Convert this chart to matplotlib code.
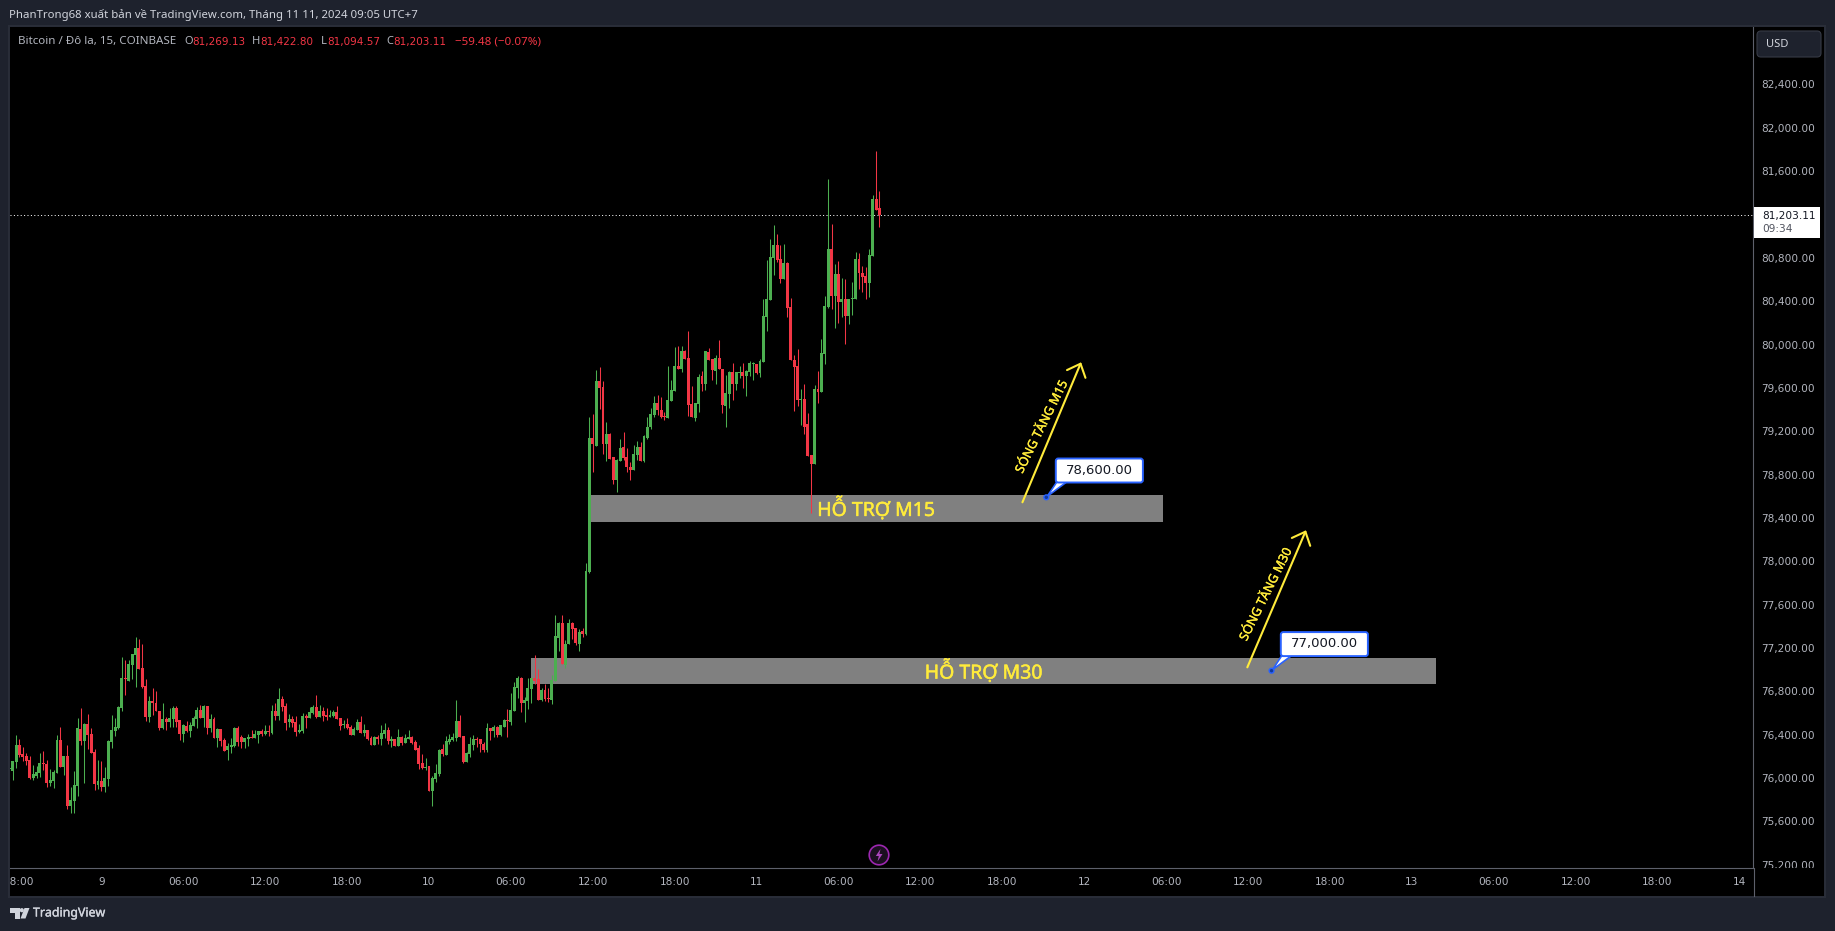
import numpy as np
import matplotlib
matplotlib.use("Agg")
import matplotlib.pyplot as plt
import matplotlib.patheffects as pe
from matplotlib.patches import Rectangle, FancyBboxPatch, Polygon, Circle
from matplotlib.transforms import Bbox, ScaledTranslation

# ---------- data ----------
first_bar = -27  # bars counted from 9 Nov 00:00, 15 minutes each
opens = [76090,76075,76158,76315,76232,76213,76176,76010,76029,76056,76149,76139,75964,75983,76056,76361,76112,76213,75752,75798,75936,76462,76352,76509,76416,76250,75946,
75983,75927,76001,76342,76444,76472,76656,76933,76905,77053,77145,77210,77025,76859,76573,76721,76702,76629,76472,76555,76527,76555,76656,
76545,76416,76490,76444,76490,76555,76638,76564,76675,76472,76555,76379,76462,76361,76269,76296,76306,76472,76389,76342,76370,76389,76379,76407,76444,76416,76444,76426,76629,76582,76739,76675,76527,76555,76527,76435,76444,76582,76564,76610,76665,76573,76629,76592,76573,76582,76619,76564,76499,76509,
76481,76407,76453,76527,76426,76453,76379,76315,76389,76370,76416,76453,76352,76370,76306,76389,76333,76370,76389,76342,76287,76149,76103,76121,75890,76001,76047,76278,76222,76342,76361,76379,76536,76398,76158,76232,76315,76370,76370,76324,76269,76472,76444,76481,76407,76481,76545,76527,76629,76841,
76933,76702,76721,76832,76933,76924,76730,76822,76749,76730,76905,77302,77441,77053,77247,77441,77394,77247,77367,77339,77911,
79147,79073,79673,79618,79092,79184,78972,78760,78935,79064,78972,78880,78852,78990,79064,78935,79147,79249,79359,79470,79406,79350,79332,79488,79581,79811,79784,79950,79885,79461,79332,79461,79719,79645,79941,79876,79765,79885,79784,79442,79553,79756,79645,79747,79756,79719,79756,79830,79830,79747,79848,80264,80420,80808,80928,80799,80614,80762,80356,79867,79811,79498,79507,79276,78990,78907,79599,79572,79922,80356,80891,80457,80660,80402,80430,80273,80430,80430,80799,80670,80642,80577,80826,81352,81269]
highs = [76090,76167,76407,76370,76296,76241,76213,76130,76121,76241,76259,76176,76093,76084,76407,76481,76213,76315,75927,76075,76564,76656,76518,76601,76472,76278,76176,
76167,76112,76361,76592,76564,76675,77127,77099,77099,77155,77311,77293,77247,76924,76770,76841,76813,76629,76702,76573,76656,76675,76675,
76545,76509,76536,76527,76582,76665,76684,76684,76675,76601,76573,76472,76462,76379,76333,76379,76481,76490,76407,76379,76416,76453,76453,76444,76462,76499,76499,76684,76702,76841,76767,76702,76601,76582,76582,76509,76610,76601,76665,76684,76776,76684,76665,76656,76638,76638,76675,76564,76545,76564,
76499,76481,76555,76582,76509,76453,76398,76398,76407,76499,76518,76481,76398,76370,76462,76398,76416,76453,76398,76361,76315,76232,76195,76121,76029,76139,76278,76324,76398,76416,76426,76730,76592,76398,76250,76389,76407,76389,76370,76342,76518,76472,76499,76490,76499,76555,76647,76795,76896,76952,
76942,76758,76933,76933,77145,77016,76841,76878,76841,76961,77514,77450,77514,77284,77478,77450,77394,77385,77394,77994,79341,
79369,79775,79802,79673,79295,79193,78972,78953,79138,79203,79055,78926,79083,79119,79110,79175,79341,79424,79535,79544,79525,79387,79811,79682,79987,79996,79996,79959,80134,79627,79470,79738,79765,79950,79978,79876,79913,80051,79784,79728,79765,79839,79756,79811,79839,79775,79858,79848,79830,79876,80430,80790,80983,81112,81029,80928,80937,80771,80439,79913,79968,79599,79645,79378,78990,79636,79765,80061,80457,81537,81122,80753,80780,80623,80614,80430,80586,80863,80854,80734,80725,80891,81389,81795,81423]
lows = [75881,75992,76103,76204,76167,76130,76001,75992,76010,76019,76084,75927,75936,75918,76056,76112,76038,75724,75687,75687,75844,76315,75964,76278,76241,75900,75909,
75890,75881,75936,76287,76398,76462,76629,76776,76905,76924,76850,77016,76841,76536,76527,76592,76629,76453,76462,76453,76481,76481,76481,
76361,76342,76435,76389,76490,76472,76564,76481,76416,76435,76379,76296,76306,76259,76176,76241,76296,76306,76287,76287,76306,76379,76379,76333,76398,76407,76398,76416,76545,76545,76629,76453,76481,76481,76398,76426,76426,76472,76564,76601,76564,76573,76536,76545,76573,76573,76555,76453,76472,76462,
76407,76407,76453,76426,76398,76361,76315,76315,76324,76315,76379,76324,76296,76306,76306,76315,76333,76370,76324,76269,76093,76093,76084,75890,75752,75973,76029,76213,76222,76324,76352,76352,76389,76149,76158,76204,76269,76296,76250,76250,76250,76361,76389,76389,76398,76481,76389,76499,76629,76748,
76619,76527,76647,76702,76878,76730,76721,76721,76712,76693,76905,77182,77062,77025,77247,77293,77238,77182,77311,77330,77900,
78833,79073,79415,79000,78935,78953,78723,78649,78935,78944,78833,78760,78852,78944,78935,78926,79138,79230,79341,79359,79332,79313,79332,79488,79581,79784,79756,79876,79350,79341,79304,79387,79581,79590,79867,79682,79645,79784,79378,79249,79424,79498,79590,79701,79608,79535,79719,79682,79738,79710,79848,80134,80420,80651,80771,80577,80614,80264,79867,79396,79442,79267,79184,78981,78455,78907,79470,79572,79830,80347,80337,80162,80208,80264,80014,80199,80282,80430,80522,80494,80430,80448,80826,81251,81094]
closes = [76090,76167,76315,76222,76204,76167,76007,76047,76066,76149,76139,75964,75992,76066,76361,76112,76213,75752,75807,75946,76472,76352,76509,76407,76241,75955,75983,
75927,76010,76352,76453,76481,76665,76933,76924,77062,77155,77210,77016,76850,76573,76721,76702,76629,76472,76555,76527,76564,76656,76527,
76416,76499,76444,76499,76564,76638,76564,76675,76472,76555,76379,76462,76352,76259,76306,76315,76472,76342,76342,76379,76389,76379,76416,76444,76416,76444,76435,76629,76582,76739,76665,76518,76555,76518,76435,76453,76582,76564,76619,76665,76573,76629,76582,76576,76592,76619,76555,76490,76509,76472,
76407,76462,76527,76426,76453,76370,76315,76389,76370,76426,76453,76352,76370,76306,76389,76333,76379,76389,76333,76269,76139,76103,76112,75890,76010,76056,76269,76232,76352,76370,76389,76536,76389,76158,76241,76324,76370,76361,76324,76269,76472,76444,76481,76407,76499,76545,76536,76638,76850,76933,
76702,76730,76841,76933,76905,76730,76822,76739,76739,76915,77321,77441,77062,77247,77441,77385,77256,77358,77339,77920,79147,
79092,79673,79608,79092,79184,78953,78760,78944,79055,78963,78880,78852,79000,79064,78935,79166,79249,79369,79470,79406,79341,79341,79498,79590,79811,79784,79950,79876,79452,79341,79470,79710,79645,79950,79867,79775,79885,79784,79452,79562,79756,79645,79756,79756,79719,79765,79839,79839,79747,79858,80273,80430,80817,80928,80790,80614,80762,80347,79867,79802,79498,79507,79249,78981,78907,79599,79572,79931,80365,80891,80457,80660,80402,80430,80273,80430,80439,80799,80670,80633,80577,80836,81352,81251,81203.11]

price_ticks = [75200,75600,76000,76400,76800,77200,77600,78000,78400,78800,79200,79600,80000,80400,80800,81200,81600,82000,82400]
time_ticks = [-24,0,24,48,72,96,120,144,168,192,216,240,264,288,312,336,360,384,408,432,456,480]
time_labels = ["18:00","9","06:00","12:00","18:00","10","06:00","12:00","18:00","11","06:00","12:00","18:00","12","06:00","12:00","18:00","13","06:00","12:00","18:00","14"]

last_price = 81203.11
zones = [("HỖ TRỢ M15", 143, 311, 78375, 78621), ("HỖ TRỢ M30", 126, 391, 76877, 77117)]
zone_label_pos = [(227.0, 78498), (258.5, 76997)]
waves = [("SÓNG TĂNG M15", 269.9, 78554, 287.1, 79846), ("SÓNG TĂNG M30", 335.8, 77031, 353.0, 78296)]
wave_label_pos = [(275.6, 79249), (341.3, 77703)]
callouts = [(276.9, 78600.0), (342.9, 77000.0)]

# ---------- colours ----------
BG = "#1e222d"; GREEN = "#4caf50"; RED = "#f23645"; TXT = "#b2b5be"; AXL = "#5d606b"
YEL = "#ffeb3b"; BLUE = "#2962ff"
W, H = 1835, 931
UI = ["Noto Sans", "DejaVu Sans"]
NUM = ["DejaVu Sans"]

fig = plt.figure(figsize=(W/100, H/100), dpi=100, facecolor=BG)

def rect_of(l, t, r, b):
    return [l/W, 1-b/H, (r-l)/W, (b-t)/H]

# chart frame
frame = fig.add_axes(rect_of(9, 26, 1825, 897)); frame.set_xticks([]); frame.set_yticks([])
frame.set_facecolor("black")
for s in frame.spines.values():
    s.set_color("#2a2e39"); s.set_linewidth(1.4)

ax = fig.add_axes(rect_of(10, 27, 1753.3, 868), facecolor="black", zorder=2)
ax.set_xlim(-26.78, 484.07)
ax.set_ylim(75179.6, 82939.4)

idx = np.arange(first_bar, first_bar+len(opens))
o, h, l, c = map(np.array, (opens, highs, lows, closes))
up = c >= o
cols = np.where(up, GREEN, RED)

# zones
for name, x0, x1, y0, y1 in zones:
    ax.add_patch(Rectangle((x0, y0), x1-x0, y1-y0, fc="#808080", ec="none", zorder=1))

# last price dotted line
ln = ax.axhline(last_price, color="white", lw=0.72, ls=(0, (1.0, 2.4)), zorder=1.5)
ln.set_snap(True)

# candles
wk = ax.vlines(idx, l, h, colors=cols, lw=0.75, zorder=3)
wk.set_snap(True)
ax.bar(idx, np.maximum(np.abs(c-o), 9), bottom=np.minimum(o, c), width=0.86, color=cols, lw=0, zorder=4)

# zone labels
stroke = [pe.withStroke(linewidth=0.35, foreground=YEL)]
for (name, *_), (zx, zy) in zip(zones, zone_label_pos):
    ax.text(zx, zy, name, color=YEL, fontsize=14.0, family=UI, ha="center", va="center", zorder=5, path_effects=stroke)

# wave arrows and rotated labels
for (name, x0, y0, x1, y1), (tx, ty) in zip(waves, wave_label_pos):
    ax.annotate("", xy=(x1, y1), xytext=(x0, y0), zorder=5,
                arrowprops=dict(arrowstyle="->,head_length=8,head_width=7.2", mutation_scale=1,
                                color=YEL, lw=1.5, shrinkA=0, shrinkB=0))
    ax.text(tx, ty, name, color=YEL, fontsize=9.1, family=UI, rotation=63.5, rotation_mode="anchor",
            ha="center", va="center", zorder=5, path_effects=[pe.withStroke(linewidth=0.25, foreground=YEL)])

# axes styling
for s in ax.spines.values():
    s.set_visible(False)
ax.spines["bottom"].set_visible(True); ax.spines["bottom"].set_color(AXL)
ax.spines["right"].set_visible(True); ax.spines["right"].set_color(AXL)
ax.yaxis.tick_right()
ax.set_yticks(price_ticks)
ax.set_yticklabels([f"{p:,.2f}" for p in price_ticks], fontsize=7.55, color=TXT, family=NUM)
ax.set_xticks(time_ticks)
ax.set_xticklabels(time_labels, fontsize=7.55, color=TXT, family=NUM)
ax.tick_params(axis="y", length=0, pad=6.0)
ax.tick_params(axis="x", length=0, pad=6.2)
clip = Bbox([[10, H-896], [1753, H-868.5]])
for lab in ax.get_xticklabels():
    lab.set_clip_on(True); lab.set_clip_box(clip)
clip2 = Bbox([[1754, H-868], [1824, H-27]])
up_shift = ScaledTranslation(0, 1.0/100, fig.dpi_scale_trans)
for lab in ax.get_yticklabels():
    lab.set_clip_on(True); lab.set_clip_box(clip2)
    lab.set_transform(lab.get_transform() + up_shift)

# overlay in pixels for the chrome
ov = fig.add_axes([0, 0, 1, 1], zorder=5); ov.set_xlim(0, W); ov.set_ylim(H, 0); ov.axis("off")
ov.patch.set_alpha(0)
ov.plot([1753.5, 1753.5], [868, 896], color=AXL, lw=0.8)

ov.text(9, 15, "PhanTrong68 xuất bản về TradingView.com, Tháng 11 11, 2024 09:05 UTC+7",
        color="#d1d4dc", fontsize=8.2, family=UI, va="center", ha="left")

segs = [(18, "Bitcoin / Đô la, 15, COINBASE", TXT, UI, 8.35), (184.6, "O", TXT, UI, 8.0), (192.5, "81,269.13", RED, NUM, 7.45),
        (252, "H", TXT, UI, 8.0), (260.5, "81,422.80", RED, NUM, 7.45), (320.5, "L", TXT, UI, 8.0), (327, "81,094.57", RED, NUM, 7.45),
        (386.5, "C", TXT, UI, 8.0), (393, "81,203.11", RED, NUM, 7.45), (454.5, "−59.48 (−0.07%)", RED, UI, 8.3)]
for x, s, col, fam, fs in segs:
    ov.text(x, 41.5, s, color=col, fontsize=fs, family=fam, va="center", ha="left")

# USD button
ov.add_patch(FancyBboxPatch((1760, 34), 58, 20, boxstyle="round,pad=3,rounding_size=4", fc=BG, ec="#363a45", lw=0.8))
ov.text(1766, 44.5, "USD", color="#d1d4dc", fontsize=8.0, family=UI, va="center", ha="left", weight="bold")

# last price tag
ov.add_patch(Rectangle((1754, 207), 65.7, 30.7, fc="white", ec="none"))
ov.text(1762, 215.5, f"{last_price:,.2f}", color="#131722", fontsize=7.55, family=NUM, va="center", ha="left")
ov.text(1762, 229, "09:34", color="#50535e", fontsize=7.55, family=NUM, va="center", ha="left")

# callouts
fx = lambda b: 101.4 + 3.4125*b
fy = lambda p: 497.3 - (p-78600)*0.10838
for (bx, price), (bl, bt) in zip(callouts, [(1055, 457.7), (1280, 631.3)]):
    px, py = fx(bx), fy(price)
    tail = Polygon([(bl+2, bt+24), (bl+12, bt+24), (px+1, py-1)], closed=True, fc="white", ec=BLUE, lw=1.2, zorder=6)
    ov.add_patch(tail)
    ov.add_patch(FancyBboxPatch((bl+2, bt+2), 84.7, 21.6, boxstyle="round,pad=1.2,rounding_size=2.5",
                                fc="white", ec=BLUE, lw=1.4, zorder=7))
    ov.text(bl+44.4, bt+12.5, f"{price:,.2f}", color="#131722", fontsize=9.5, family=NUM, ha="center", va="center", zorder=8)
    ov.add_patch(Circle((px, py), 2.4, fc="#123a9c", ec=BLUE, lw=1, zorder=8))

# lightning icon
ov.add_patch(Circle((879, 855), 9.8, fc="#1b0f20", ec="#9c27b0", lw=1.2))
ov.add_patch(Polygon([(880.5, 849), (875.8, 856), (878.8, 856), (877.5, 861.5), (882.5, 854), (879.4, 854)], closed=True,
                     fc="#ab47bc", ec="none"))

# footer logo
ov.add_patch(Polygon([(10, 908), (20, 908), (20, 918.5), (15, 918.5), (15, 912.5), (10, 912.5)], closed=True, fc="#d1d4dc", ec="none"))
ov.add_patch(Circle((21.8, 910.2), 2.1, fc="#d1d4dc", ec="none"))
ov.add_patch(Polygon([(24.5, 908), (29.5, 908), (25.5, 918.5), (20.5, 918.5)], closed=True, fc="#d1d4dc", ec="none"))
ov.text(33, 913, "TradingView", color="#d1d4dc", fontsize=8.9, family=UI, va="center", ha="left",
        path_effects=[pe.withStroke(linewidth=0.25, foreground="#d1d4dc")])

fig.savefig("out.png", dpi=100, facecolor=BG)
